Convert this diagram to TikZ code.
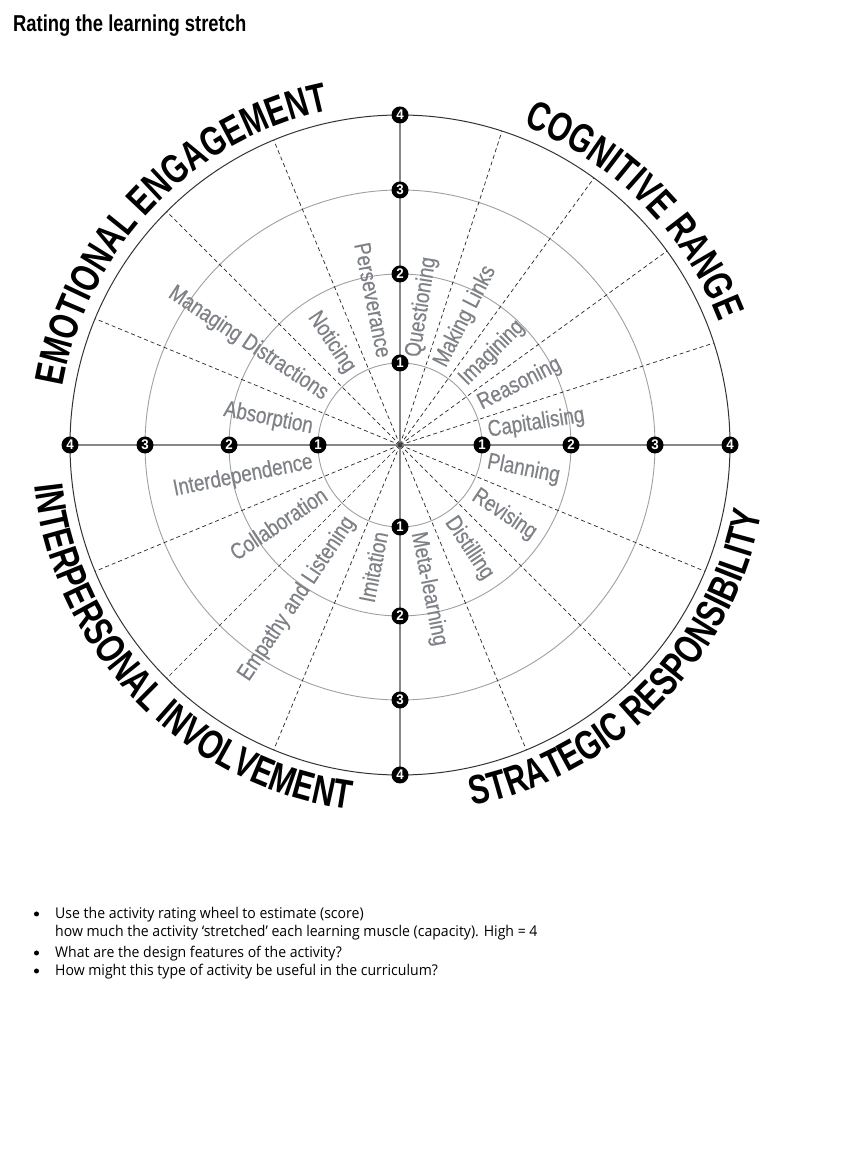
\documentclass[tikz,border=0pt]{standalone}
\usepackage{fontspec}
\setmainfont{Open Sans}
\newfontfamily\capfont{Liberation Sans}[FakeStretch=0.82, FakeBold=0.4]
\newfontfamily\catfont{Liberation Sans}[FakeStretch=0.74]
\newfontfamily\titlefont{Liberation Sans}[FakeStretch=0.8]
\newfontfamily\numfont{Liberation Sans}[FakeStretch=0.95]
\newfontfamily\bodyfont{Open Sans}[FakeStretch=0.95]
\usetikzlibrary{decorations.text}
\definecolor{capgray}{RGB}{126,129,134}
\definecolor{ringgray}{RGB}{160,160,160}
\definecolor{axisgray}{RGB}{135,135,135}
\begin{document}
\begin{tikzpicture}[x=1pt,y=1pt,
  ring/.style={draw=ringgray, line width=0.9pt},
  outerring/.style={draw=black!80, line width=1pt},
  axisline/.style={draw=axisgray, line width=1.4pt},
  spoke/.style={draw=black!85, line width=0.7pt, dash pattern=on 4pt off 3pt},
  marker/.style={circle, fill=black, text=white, minimum size=17pt, inner sep=0pt,
    font=\numfont\bfseries\fontsize{14}{14}\selectfont},
  capacitylabel/.style={text=capgray, inner sep=0pt, font=\capfont\fontsize{23}{23}\selectfont,
    text height=16.5pt, text depth=4.8pt},
  capR/.style={capacitylabel, anchor=west},
  capL/.style={capacitylabel, anchor=east},
  bodytext/.style={anchor=base west, inner sep=0pt, font=\bodyfont\fontsize{14.8}{17}\selectfont},
  bulletmark/.style={circle, fill=black, minimum size=5pt, inner sep=0pt}
]
\useasboundingbox (0,0) rectangle (846,1151);
\fill[white] (0,0) rectangle (846,1151);

% title
\node[anchor=base west, inner sep=0pt, font=\titlefont\bfseries\fontsize{23}{23}\selectfont]
  (title) at (13,1119.5) {Rating the learning stretch};

% wheel
\coordinate (C) at (400,706);
\foreach \r in {82,171,255} \draw[ring] (C) circle[radius=\r];
\draw[outerring] (C) circle[radius=330];

% dashed spokes
\foreach \a in {18,36,54,72,112.5,135,157.5,202.5,225,247.5,292.5,315,337.5}
  \draw[spoke] (C) -- ([shift={(\a:330)}]C);

% axes
\foreach \i/\r in {1/82,2/171,3/255,4/330}{
  \coordinate (E\i) at ([shift={(\r,0)}]C);
  \coordinate (W\i) at ([shift={(-\r,0)}]C);
  \coordinate (N\i) at ([shift={(0,\r)}]C);
  \coordinate (S\i) at ([shift={(0,-\r)}]C);
}
\draw[axisline] (W4) -- (E4);
\draw[axisline] (N4) -- (S4);

\node[circle, fill=black!75, minimum size=5pt, inner sep=0pt] (ctr) at (C) {};

\foreach \i in {1,2,3,4}{
  \node[marker] (mE\i) at (E\i) {\i};
  \node[marker] (mW\i) at (W\i) {\i};
  \node[marker] (mN\i) at (N\i) {\i};
  \node[marker] (mS\i) at (S\i) {\i};
}

% capacity labels, right half (read outward)
\node[capR, rotate=81]     (q)  at ([shift={(81:89)}]C) {Questioning};
\node[capR, rotate=63]     (ml) at ([shift={(63:89)}]C) {Making Links};
\node[capR, rotate=45]     (im) at ([shift={(45:89)}]C) {Imagining};
\node[capR, rotate=27]     (re) at ([shift={(27:89)}]C) {Reasoning};
\node[capR, rotate=9]      (ca) at ([shift={(9:89)}]C) {Capitalising};
\node[capR, rotate=-11.25] (pl) at ([shift={(-11.25:89)}]C) {Planning};
\node[capR, rotate=-33.75] (rv) at ([shift={(-33.75:89)}]C) {Revising};
\node[capR, rotate=-56.25] (di) at ([shift={(-56.25:89)}]C) {Distilling};
\node[capR, rotate=-78.75] (me) at ([shift={(-78.75:89)}]C) {Meta-learning};
% left half (read inward)
\node[capL, rotate=-78.75] (pe) at ([shift={(101.25:89)}]C) {Perseverance};
\node[capL, rotate=-56.25] (no) at ([shift={(123.75:89)}]C) {Noticing};
\node[capL, rotate=-33.75] (md) at ([shift={(146.25:89)}]C) {Managing Distractions};
\node[capL, rotate=-11.25] (ab) at ([shift={(168.75:89)}]C) {Absorption};
\node[capL, rotate=11.25]  (in) at ([shift={(191.25:89)}]C) {Interdependence};
\node[capL, rotate=33.75]  (co) at ([shift={(213.75:89)}]C) {Collaboration};
\node[capL, rotate=56.25]  (em) at ([shift={(236.25:89)}]C) {Empathy and Listening};
\node[capL, rotate=78.75]  (it) at ([shift={(258.75:89)}]C) {Imitation};

% category titles along arcs
\path[decorate, decoration={text along path, text align=center,
  text={|\catfont\bfseries\fontsize{41}{41}\selectfont|EMOTIONAL ENGAGEMENT}}]
  ([shift={(181:342)}]C) arc[start angle=181, end angle=91, radius=342];
\path[decorate, decoration={text along path, text align=center,
  text={|\catfont\bfseries\fontsize{41}{41}\selectfont|COGNITIVE RANGE}}]
  ([shift={(85:342)}]C) arc[start angle=85, end angle=5, radius=342];
\path[decorate, decoration={text along path, text align=center,
  text={|\catfont\bfseries\fontsize{41}{41}\selectfont|INTERPERSONAL INVOLVEMENT}}]
  ([shift={(179.25:368)}]C) arc[start angle=179.25, end angle=269.25, radius=368];
\path[decorate, decoration={text along path, text align=center,
  text={|\catfont\bfseries\fontsize{41}{41}\selectfont|STRATEGIC RESPONSIBILITY}}]
  ([shift={(270.35:368)}]C) arc[start angle=270.35, end angle=360.35, radius=368];

% bullets
\node[bulletmark] (b1) at (36.5,237) {};
\node[bodytext] (t1a) at (55,232) {Use the activity rating wheel to estimate (score)};
\node[bodytext] (t1b) at (55,214) {how much the activity ‘stretched’ each learning muscle (capacity). High = 4};
\node[bulletmark] (b2) at (36.5,198) {};
\node[bodytext] (t2) at (55,193) {What are the design features of the activity?};
\node[bulletmark] (b3) at (36.5,180) {};
\node[bodytext] (t3) at (55,175) {How might this type of activity be useful in the curriculum?};
\end{tikzpicture}
\end{document}
